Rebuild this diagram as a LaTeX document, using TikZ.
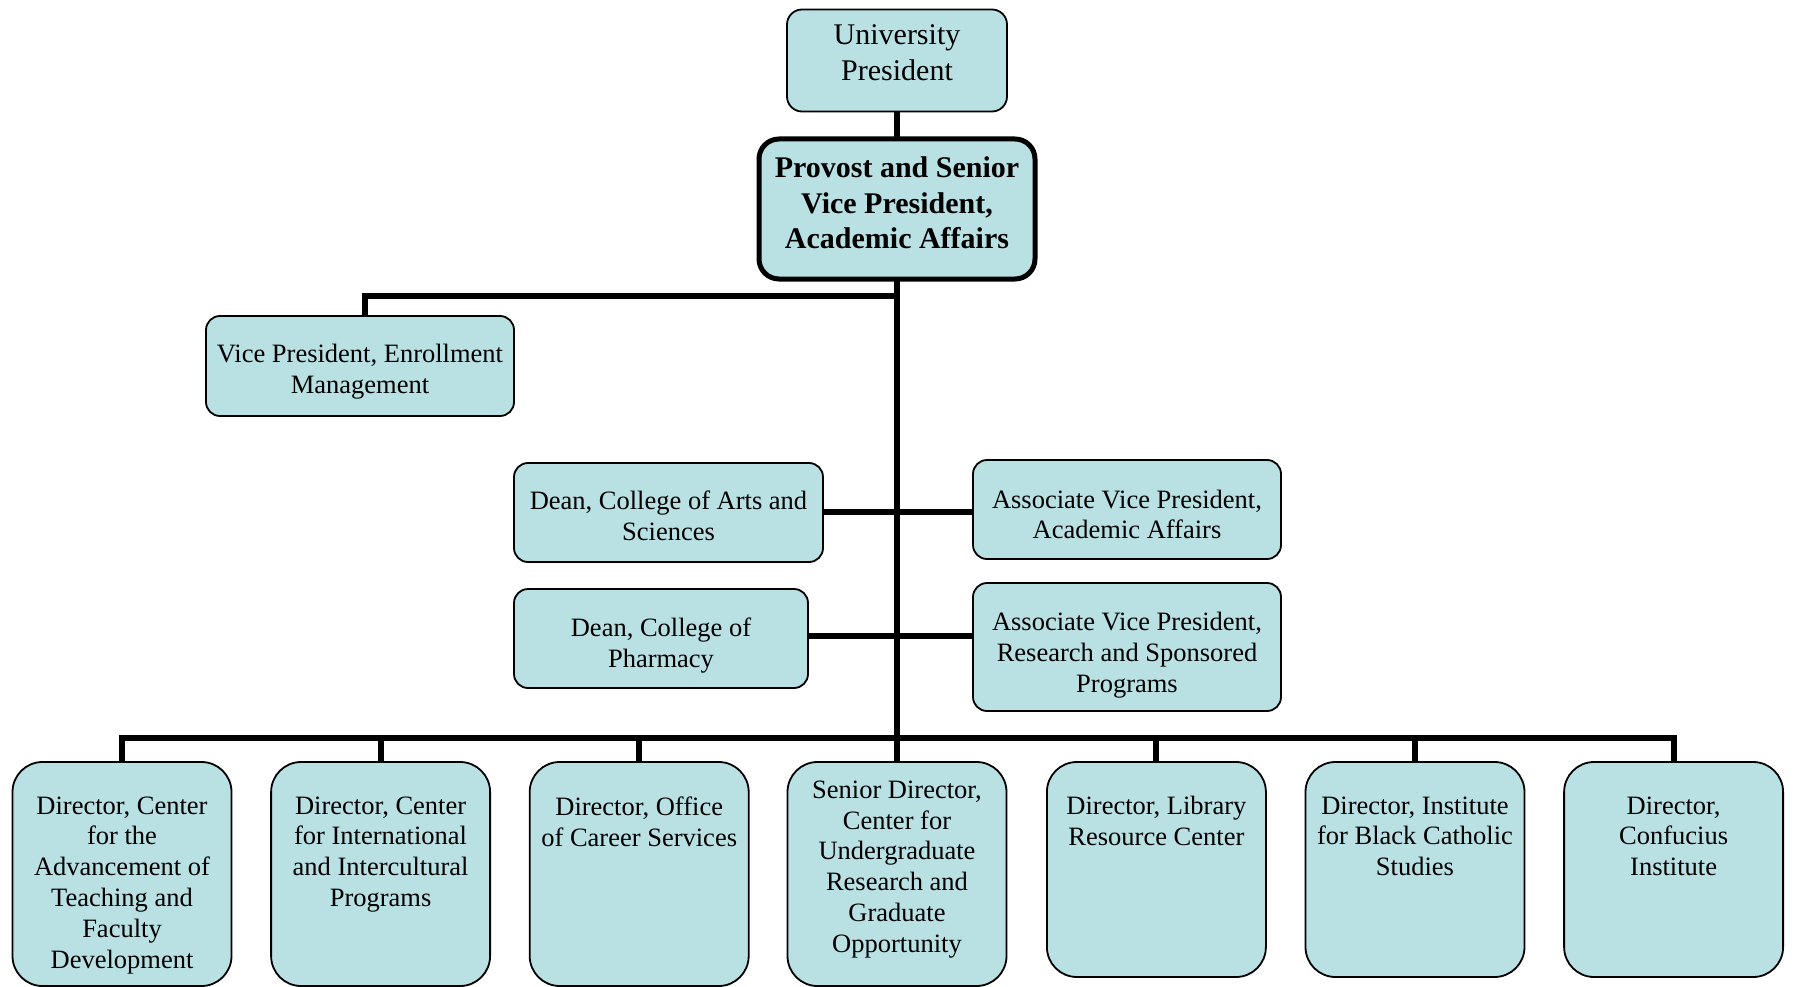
\documentclass[tikz,border=0pt]{standalone}
\usepackage{fontspec}
\setmainfont{Liberation Serif}
\definecolor{boxfill}{RGB}{185,224,227}
\tikzset{
  box/.style={draw=black, line width=1.8pt, fill=boxfill, rounded corners=14pt, inner sep=0pt, outer sep=0pt},
  dirbox/.style={box, rounded corners=30pt, minimum width=219pt},
  conn/.style={line width=6pt, line join=miter, line cap=butt},
  txt/.style={align=center, inner sep=0pt, font=\fontsize{26.5}{30.8}\selectfont},
  toptxt/.style={align=center, inner sep=0pt, font=\fontsize{30}{35.7}\selectfont},
  provtxt/.style={align=center, inner sep=0pt, font=\fontsize{30}{35.8}\selectfont\bfseries},
}
\begin{document}
\begin{tikzpicture}[x=1pt,y=-1pt]
\useasboundingbox (0,0) rectangle (1794,987);

% upper boxes
\node[box, minimum width=220pt, minimum height=102pt, rounded corners=15pt] (pres) at (897,60.5) {};
\node[box, line width=5pt, minimum width=276pt, minimum height=140pt, rounded corners=20pt] (prov) at (897,209) {};
\node[box, minimum width=308pt, minimum height=100pt] (vpem) at (360,366) {};
\node[box, minimum width=309pt, minimum height=99pt] (deanas) at (668.5,512.5) {};
\node[box, minimum width=294pt, minimum height=99pt] (deanph) at (661,638.5) {};
\node[box, minimum width=308pt, minimum height=99pt] (avpaa) at (1127,509.5) {};
\node[box, minimum width=308pt, minimum height=128pt] (avprs) at (1127,647) {};

% bottom boxes
\node[dirbox, minimum height=224pt] (d1) at (122,874) {};
\node[dirbox, minimum height=224pt] (d2) at (380.6,874) {};
\node[dirbox, minimum height=224pt] (d3) at (639.2,874) {};
\node[dirbox, minimum height=224pt] (d4) at (897,874) {};
\node[dirbox, minimum height=215pt] (d5) at (1156.4,869.5) {};
\node[dirbox, minimum height=215pt] (d6) at (1415,869.5) {};
\node[dirbox, minimum height=215pt] (d7) at (1673.6,869.5) {};

% texts
\node[toptxt] (tpres) at (897,52.6) {University\\President};
\node[provtxt] (tprov) at (897,202.8) {Provost and Senior\\Vice President,\\Academic Affairs};
\node[txt] (tvpem) at (360,371.9) {Vice President, Enrollment\\Management};
\node[txt] (tdeanas) at (668.5,515.8) {Dean, College of Arts and\\Sciences};
\node[txt] (tdeanph) at (661,645.5) {Dean, College of\\Pharmacy};
\node[txt] (tavpaa) at (1127,514.5) {Associate Vice President,\\Academic Affairs};
\node[txt] (tavprs) at (1127,655) {Associate Vice President,\\Research and Sponsored\\Programs};

\node[txt, anchor=north] (t1) at (122,796.4) {Director, Center\\for the\\Advancement of\\Teaching and\\Faculty\\Development};
\node[txt, anchor=north] (t2) at (380.6,796.4) {Director, Center\\for International\\and Intercultural\\Programs};
\node[txt, anchor=north] (t3) at (639.2,796.4) {Director, Office\\of Career Services};
\node[txt, anchor=north] (t4) at (897,780.6) {Senior Director,\\Center for\\Undergraduate\\Research and\\Graduate\\Opportunity};
\node[txt, anchor=north] (t5) at (1156.4,796.4) {Director, Library\\Resource Center};
\node[txt, anchor=north] (t6) at (1415,796.4) {Director, Institute\\for Black Catholic\\Studies};
\node[txt, anchor=north] (t7) at (1673.6,796.4) {Director,\\Confucius\\Institute};

% junction coordinates
\coordinate (busy) at (0,738);
\coordinate (vpj) at (897,295.5);
\coordinate (c1) at (897,511.5);
\coordinate (c2) at (897,636);

% connectors
\draw[conn] (pres.south) -- (prov.north);
\draw[conn] (prov.south) -- (prov.south |- busy);
\draw[conn] ([xshift=5pt]vpem.north) |- (vpj);
\draw[conn] (deanas.east |- c1) -- (avpaa.west |- c1);
\draw[conn] (deanph.east |- c2) -- (avprs.west |- c2);
\draw[conn] (d1.north) -- (d1.north |- busy) -- (d7.north |- busy) -- (d7.north);
\foreach \n in {d2,d3,d4,d5,d6}
  \draw[conn] (\n.north) -- (\n.north |- busy);
\end{tikzpicture}
\end{document}
